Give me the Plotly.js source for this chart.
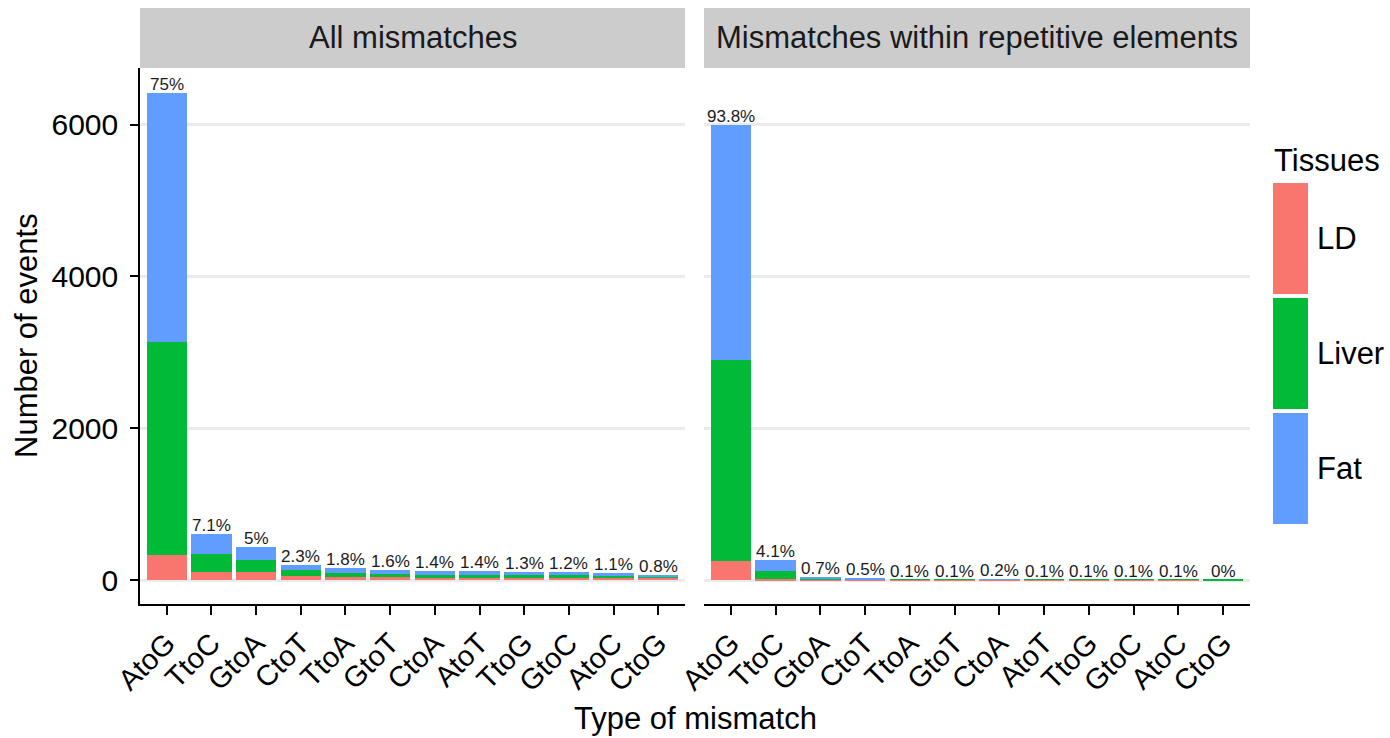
<!DOCTYPE html>
<html>
<head>
<meta charset="utf-8">
<script src="https://cdn.plot.ly/plotly-3.0.1.min.js"></script>
<style>html,body{margin:0;padding:0;background:#fff;}#chart{width:1390px;height:738px;}</style>
</head>
<body>
<div id="chart"></div>
<script>
// ---- data ----
const categories = ['AtoG','TtoC','GtoA','CtoT','TtoA','GtoT','CtoA','AtoT','TtoG','GtoC','AtoC','CtoG'];
const allLD    = [330, 100, 110, 58, 45, 45, 33, 33, 33, 30, 30, 30];
const allLiver = [2800, 250, 155, 70, 50, 40, 40, 40, 35, 33, 30, 18];
const allFat   = [3290, 258, 165, 70, 60, 52, 47, 47, 44, 40, 35, 20];
const allLabels = ['75%','7.1%','5%','2.3%','1.8%','1.6%','1.4%','1.4%','1.3%','1.2%','1.1%','0.8%'];
const repLD    = [245, 8, 3, 3, 5, 5, 6, 5, 5, 5, 5, 0];
const repLiver = [2655, 115, 12, 8, 1, 1, 0, 1, 1, 1, 1, 2];
const repFat   = [3100, 140, 30, 21, 0, 0, 7, 0, 0, 0, 0, 0];
const repLabels = ['93.8%','4.1%','0.7%','0.5%','0.1%','0.1%','0.2%','0.1%','0.1%','0.1%','0.1%','0%'];
const tissues = ['LD','Liver','Fat'];
const panelTitles = ['All mismatches','Mismatches within repetitive elements'];
const yTicks = [0, 2000, 4000, 6000];

// ---- styles ----
const colors = {LD:'#F8766D', Liver:'#00BA38', Fat:'#619CFF'};
const FONT = 'Liberation Sans, Arial, Helvetica, sans-serif';
const W = 1390, H = 738;
const px = x => x / W;
const py = y => 1 - y / H;

const idx = categories.map((c, i) => i);
function sum3(a, b, c) { return a.map((v, i) => v + b[i] + c[i]); }

const traces = [];
const panels = [
  {xa:'x', ya:'y', LD:allLD, Liver:allLiver, Fat:allFat},
  {xa:'x2', ya:'y2', LD:repLD, Liver:repLiver, Fat:repFat}
];
panels.forEach(p => {
  tissues.forEach(t => {
    traces.push({
      type:'bar', x:idx, y:p[t], xaxis:p.xa, yaxis:p.ya, name:t,
      marker:{color:colors[t], line:{width:0}}, width:0.9, showlegend:false,
      hovertemplate:'%{y}<extra>'+t+'</extra>'
    });
  });
});

function paperText(x, y, text, size, extra) {
  return Object.assign({x:px(x), y:py(y), xref:'paper', yref:'paper', text:text, showarrow:false,
    xanchor:'center', yanchor:'middle', font:{family:FONT, size:size, color:'#000'}}, extra || {});
}

const annotations = [];
const totAll = sum3(allLD, allLiver, allFat);
const totRep = sum3(repLD, repLiver, repFat);
[[totAll, allLabels, 'x', 'y'], [totRep, repLabels, 'x2', 'y2']].forEach(([tot, labs, xa, ya]) => {
  tot.forEach((v, i) => annotations.push({
    x:i, y:v, xref:xa, yref:ya, text:labs[i], showarrow:false, xanchor:'center',
    yanchor:'bottom', yshift:-3, font:{family:FONT, size:17, color:'#1a1a1a'}
  }));
});

// strip titles
annotations.push(paperText(412.5, 38, panelTitles[0], 31, {font:{family:FONT, size:31, color:'#1a1a1a'}}));
annotations.push(paperText(977, 38, panelTitles[1], 31, {font:{family:FONT, size:31, color:'#1a1a1a'}}));
// axis titles
annotations.push(paperText(26, 336, 'Number of events', 31, {textangle:-90}));
annotations.push(paperText(695, 718, 'Type of mismatch', 31));
// legend
annotations.push(paperText(1272, 160, 'Tissues', 31, {xanchor:'left'}));
const keyTops = [183, 298, 413];
const keyH = 111;
const shapes = [];
tissues.forEach((t, i) => {
  shapes.push({type:'rect', xref:'paper', yref:'paper', x0:px(1273), x1:px(1308),
    y0:py(keyTops[i] + keyH), y1:py(keyTops[i]), fillcolor:colors[t], line:{width:0}, layer:'above'});
  annotations.push(paperText(1315, keyTops[i] + keyH/2, t, 31, {xanchor:'left'}));
});
// strips
shapes.push({type:'rect', xref:'paper', yref:'paper', x0:px(140), x1:px(685), y0:py(68), y1:py(8),
  fillcolor:'#CCCCCC', line:{width:0}, layer:'below'});
shapes.push({type:'rect', xref:'paper', yref:'paper', x0:px(704), x1:px(1250), y0:py(68), y1:py(8),
  fillcolor:'#CCCCCC', line:{width:0}, layer:'below'});

const yRange = [-315, 6745];
const xCommon = {
  range:[-0.6, 11.6], tickmode:'array', tickvals:idx, ticktext:categories, tickangle:-45,
  ticks:'outside', ticklen:9, tickwidth:1.5, tickcolor:'#000',
  showline:true, linecolor:'#000', linewidth:1.5, showgrid:false, zeroline:false,
  tickfont:{family:FONT, size:29, color:'#000'}, fixedrange:true
};
const yCommon = {
  range:yRange, tickmode:'array', tickvals:yTicks, showgrid:true, gridcolor:'#EBEBEB', gridwidth:3,
  zeroline:false, fixedrange:true, domain:[py(604), py(68)]
};

const layout = {
  width:W, height:H, margin:{l:0, r:0, t:0, b:0}, paper_bgcolor:'#fff', plot_bgcolor:'rgba(0,0,0,0)',
  barmode:'stack', bargap:0, showlegend:false,
  xaxis:Object.assign({}, xCommon, {domain:[px(140), px(685)], anchor:'y'}),
  xaxis2:Object.assign({}, xCommon, {domain:[px(704), px(1250)], anchor:'y2'}),
  yaxis:Object.assign({}, yCommon, {anchor:'x', ticks:'outside', ticklen:8, tickwidth:1.5, tickcolor:'#000',
    ticklabelstandoff:6, showline:true, linecolor:'#000', linewidth:1.5,
    tickfont:{family:FONT, size:30, color:'#000'}}),
  yaxis2:Object.assign({}, yCommon, {anchor:'x2', showticklabels:false, ticks:'', showline:false}),
  annotations:annotations, shapes:shapes, font:{family:FONT}
};

Plotly.newPlot('chart', traces, layout, {displayModeBar:false});
</script>
</body>
</html>
